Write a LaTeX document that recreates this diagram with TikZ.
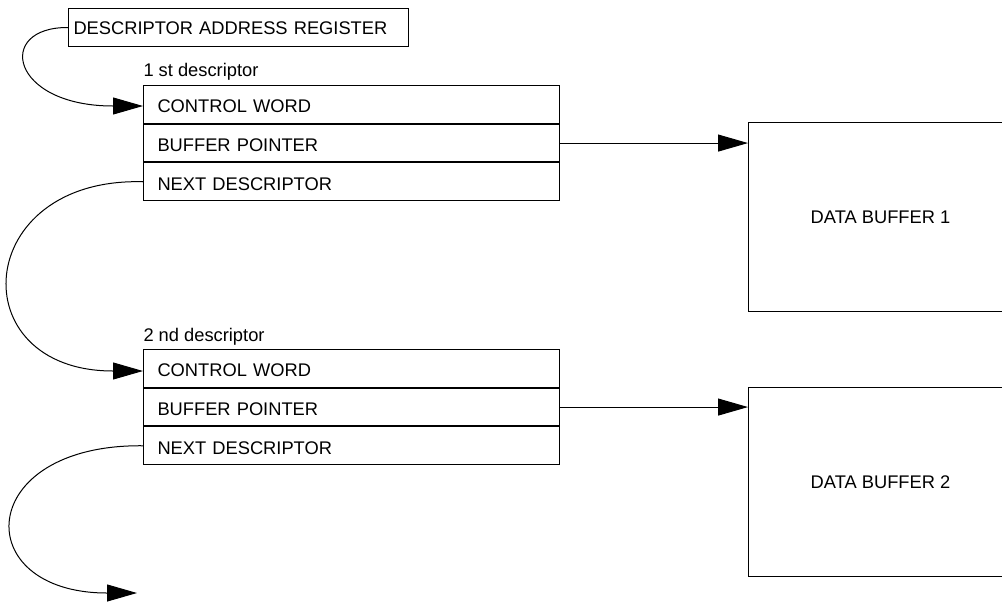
\documentclass[tikz,border=0pt]{standalone}
\usepackage{fontspec}
\setmainfont{Liberation Sans}
\usetikzlibrary{arrows.meta}
\begin{document}
\begin{tikzpicture}[x=1pt,y=-1pt,
  line width=1pt,
  every node/.style={font=\fontsize{18.3}{21}\selectfont},
  reg/.style={draw, anchor=north west, minimum width=340pt, minimum height=38pt,
    inner xsep=5pt, inner ysep=0pt, text width=330pt, align=left, text height=13.7pt, text depth=0pt},
  row/.style={draw, anchor=north west, minimum width=416pt, minimum height=37.7pt,
    inner xsep=14pt, inner ysep=0pt, text width=388pt, align=left, text height=16.7pt, text depth=0pt},
  buf/.style={draw, anchor=north west, minimum width=264pt, minimum height=189pt,
    inner sep=0pt, text height=13pt, text depth=0pt},
  lbl/.style={anchor=base west, inner sep=0pt},
  tip/.style={-{Triangle[length=30pt,width=17pt]}}
]
\useasboundingbox (0,0) rectangle (1002,603);

\node[reg] (dar) at (68,8) {DESCRIPTOR ADDRESS REGISTER};

\node[lbl] (l1) at (143,76.5) {1 st descriptor};
\node[row] (d1cw) at (143,85) {CONTROL WORD};
\node[row] (d1bp) at (d1cw.south west) {BUFFER POINTER};
\node[row] (d1nd) at (d1bp.south west) {NEXT DESCRIPTOR};

\node[lbl] (l2) at (143,341.5) {2 nd descriptor};
\node[row] (d2cw) at (143,349) {CONTROL WORD};
\node[row] (d2bp) at (d2cw.south west) {BUFFER POINTER};
\node[row] (d2nd) at (d2bp.south west) {NEXT DESCRIPTOR};

\node[buf] (b1) at (748,122) {DATA BUFFER 1};
\node[buf] (b2) at (748,387) {DATA BUFFER 2};

\coordinate (c1) at (143,106);
\coordinate (c2) at (143,371);
\coordinate (endpt) at (137,593);

\draw[tip] (dar.west) .. controls (-5,27) and (10,106) .. (113,106) -- (c1);
\draw[tip] (d1bp.east) -- (b1.north west |- d1bp.east);
\draw[tip] (d2bp.east) -- (b2.north west |- d2bp.east);
\draw[tip] (d1nd.west) .. controls (-28,177) and (-40,371) .. (113,371) -- (c2);
\draw[tip] (d2nd.west) .. controls (-26,444) and (-32,593) .. (107,593) -- (endpt);
\end{tikzpicture}
\end{document}
